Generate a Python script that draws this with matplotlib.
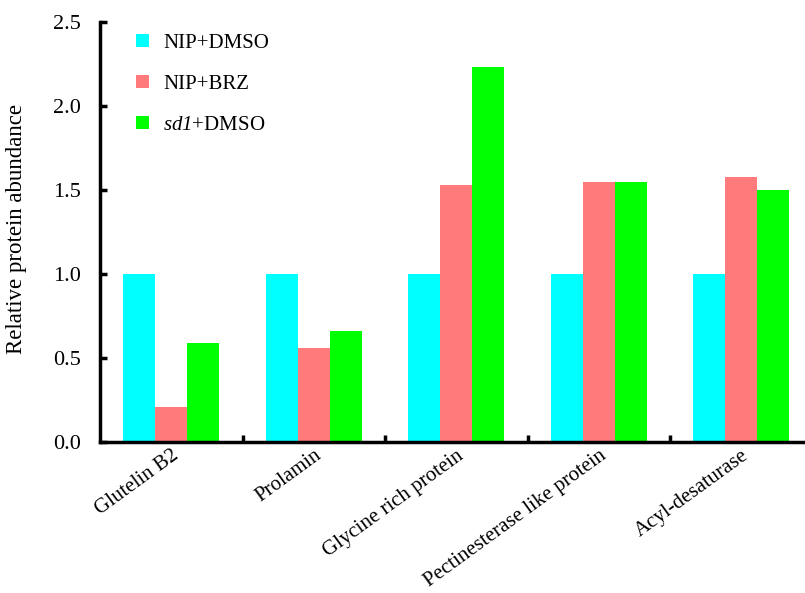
import matplotlib

matplotlib.use("Agg")
import matplotlib.pyplot as plt
import numpy as np

categories = ["Glutelin B2", "Prolamin", "Glycine rich protein",
              "Pectinesterase like protein", "Acyl-desaturase"]
series_names = ["NIP+DMSO", "NIP+BRZ", r"$sd1$+DMSO"]
nip_dmso = [1.0, 1.0, 1.0, 1.0, 1.0]
nip_brz = [0.21, 0.56, 1.53, 1.55, 1.58]
sd1_dmso = [0.59, 0.66, 2.23, 1.55, 1.50]
yticks = [0.0, 0.5, 1.0, 1.5, 2.0, 2.5]

COLORS = ["#00ffff", "#ff7b7b", "#00ff00"]

plt.rcParams["font.family"] = ["Liberation Serif", "DejaVu Serif"]
# only the "sd1" legend text is mathtext; keep it all italic, digits included
plt.rcParams["mathtext.fontset"] = "custom"
plt.rcParams["mathtext.it"] = "Liberation Serif:italic"
plt.rcParams["mathtext.rm"] = "Liberation Serif:italic"

fig = plt.figure(figsize=(8.05, 5.93), dpi=100)
ax = fig.add_axes([100 / 805, 151 / 593, 705 / 805, 420 / 593])

x = np.arange(len(categories))
w = 0.225
bars = []
for i, (vals, c) in enumerate(zip([nip_dmso, nip_brz, sd1_dmso], COLORS)):
    b = ax.bar(x + (i - 1) * w, vals, w, color=c, linewidth=0)
    bars.append(b)

ax.set_xlim(-0.5, -0.5 + 705 / 142.5)
ax.set_ylim(0, 2.5)
ax.set_yticks(yticks)
ax.set_yticklabels([f"{v:.1f}" for v in yticks], fontsize=16)

# group separator ticks on the x-axis, labels at group centers
ax.set_xticks(x[:-1] + 0.5, minor=True)
ax.set_xticks(x)
ax.set_xticklabels(categories, fontsize=15, rotation=36,
                   ha="right", rotation_mode="anchor")
ax.tick_params(axis="x", which="major", length=0, pad=3)
ax.tick_params(axis="x", which="minor", direction="in", length=5, width=2.5)
ax.tick_params(axis="y", direction="in", length=5, width=2.5, pad=14)

for s in ["top", "right"]:
    ax.spines[s].set_visible(False)
for s in ["left", "bottom"]:
    ax.spines[s].set_linewidth(2.5)

ax.set_ylabel("Relative protein abundance", fontsize=16.5)
ax.yaxis.set_label_coords(-0.1035, 0.507)

ax.legend(bars, series_names, loc="upper left", bbox_to_anchor=(0.025, 1.017),
          frameon=False, fontsize=15, handlelength=0.6, handleheight=0.6,
          handletextpad=0.7, labelspacing=1.07)

fig.savefig("out.png", dpi=100)
